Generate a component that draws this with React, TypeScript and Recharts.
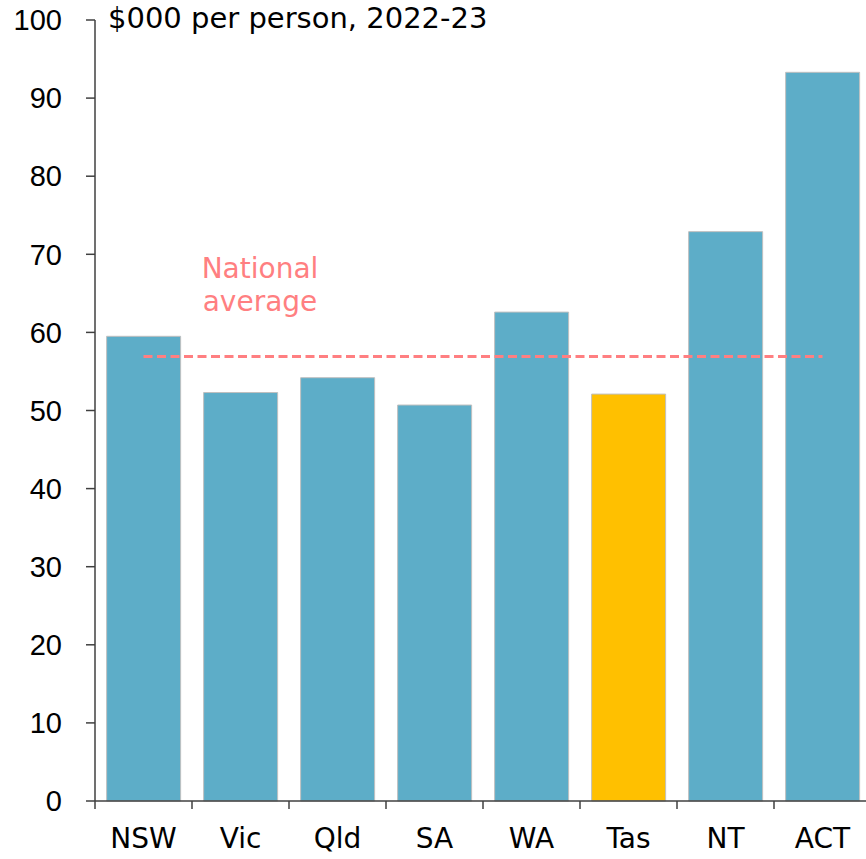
import React from 'react';
import {
  ComposedChart,
  Bar,
  Cell,
  XAxis,
  YAxis,
  ReferenceLine,
} from 'recharts';

const states = ['NSW', 'Vic', 'Qld', 'SA', 'WA', 'Tas', 'NT', 'ACT'];
const gspPerPerson = [59.5, 52.3, 54.2, 50.7, 62.6, 52.1, 72.9, 93.3];
const nationalAverage = 56.9;
const yTicks = [0, 10, 20, 30, 40, 50, 60, 70, 80, 90, 100];
const highlight = 'Tas';

const data = states.map((state, i) => ({ state, value: gspPerPerson[i] }));

const BAR_COLOR = '#5DADC8';
const HIGHLIGHT_COLOR = '#FFC000';
const AVG_COLOR = '#FF7F81';
const AXIS_COLOR = '#404040';
const TEXT_FONT = '"DejaVu Sans", sans-serif';
const NUM_FONT = '"Liberation Sans", sans-serif';

// category label plus tick marks on the band edges (not the centres)
const StateTick = (props: any) => {
  const { x, y, payload, index, visibleTicksCount } = props;
  const half = payload.offset || 0;
  const axisY = y - 27;
  const isLast = index === visibleTicksCount - 1;
  return (
    <g>
      <line x1={x - half} x2={x - half} y1={axisY} y2={axisY + 8} stroke={AXIS_COLOR} strokeWidth={1.5} />
      {isLast && (
        <line x1={x + half} x2={x + half} y1={axisY} y2={axisY + 8} stroke={AXIS_COLOR} strokeWidth={1.5} />
      )}
      <text
        x={x}
        y={y}
        dy="0.71em"
        textAnchor="middle"
        fill="#000"
        fontSize={28}
        fontFamily={TEXT_FONT}
      >
        {payload.value}
      </text>
    </g>
  );
};

const App: React.FC = () => {
  return (
    <div
      style={{
        position: 'absolute',
        left: 0,
        top: 0,
        width: 866,
        height: 859,
        overflow: 'hidden',
        background: '#fff',
      }}
    >
      <ComposedChart
        width={871}
        height={859}
        data={data}
        margin={{ top: 20, right: 0, left: 0, bottom: 0 }}
        barCategoryGap="12%"
      >
        <XAxis
          dataKey="state"
          height={58}
          axisLine={{ stroke: AXIS_COLOR, strokeWidth: 1.5 }}
          tickLine={false}
          tickSize={8}
          tickMargin={19}
          tick={<StateTick />}
          interval={0}
        />
        <YAxis
          width={95}
          domain={[0, 100]}
          ticks={yTicks}
          axisLine={{ stroke: AXIS_COLOR, strokeWidth: 1.5 }}
          tickLine={{ stroke: AXIS_COLOR, strokeWidth: 1.5 }}
          tickSize={9}
          tickMargin={24}
          tick={{ fill: '#000', fontSize: 29, fontFamily: NUM_FONT }}
        />
        <Bar dataKey="value" stroke="#BFBFBF" strokeWidth={1} isAnimationActive={false}>
          {data.map((d) => (
            <Cell key={d.state} fill={d.state === highlight ? HIGHLIGHT_COLOR : BAR_COLOR} />
          ))}
        </Bar>
        <ReferenceLine
          segment={[
            { x: states[0], y: nationalAverage },
            { x: states[states.length - 1], y: nationalAverage },
          ]}
          stroke={AVG_COLOR}
          strokeWidth={3}
          strokeDasharray="9 4.5"
        />
      </ComposedChart>
      <div
        style={{
          position: 'absolute',
          left: 108,
          top: 1,
          fontFamily: TEXT_FONT,
          fontSize: 29,
          color: '#000',
          whiteSpace: 'nowrap',
        }}
      >
        $000 per person, 2022-23
      </div>
      <div
        style={{
          position: 'absolute',
          left: 160,
          top: 252,
          width: 200,
          textAlign: 'center',
          fontFamily: TEXT_FONT,
          fontSize: 28,
          lineHeight: '33px',
          color: AVG_COLOR,
        }}
      >
        National
        <br />
        average
      </div>
    </div>
  );
};

export default App;
